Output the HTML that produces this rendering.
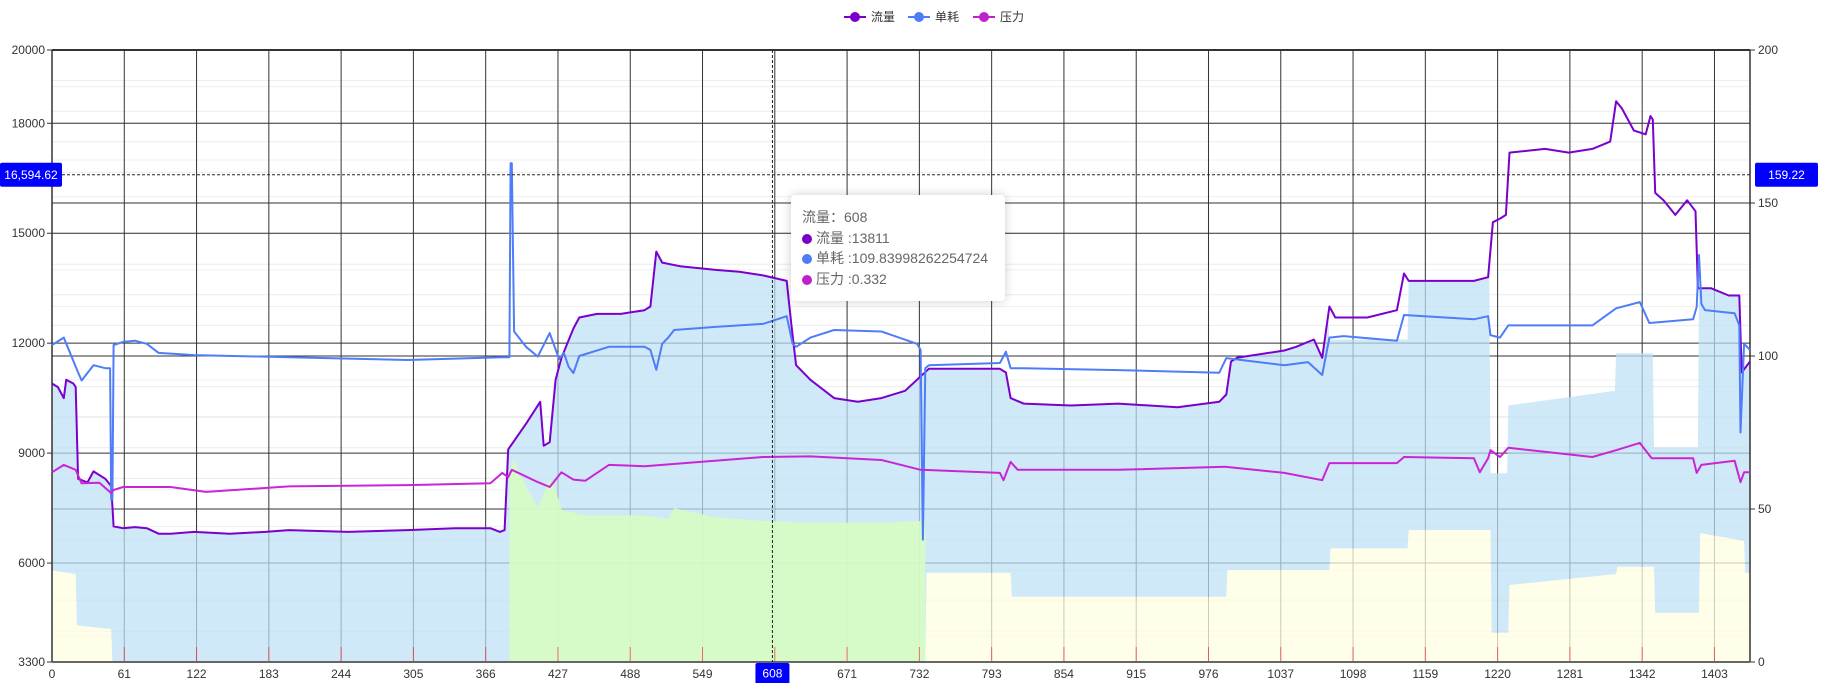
<!DOCTYPE html>
<html><head><meta charset="utf-8">
<style>
html,body{margin:0;padding:0;background:#fff;}
body{width:1823px;height:683px;overflow:hidden;position:relative;font-family:"Liberation Sans","Noto Sans CJK SC",sans-serif;}
svg text{font-family:"Liberation Sans","Noto Sans CJK SC",sans-serif;}
#tooltip{position:absolute;left:791px;top:195px;width:214px;height:106px;background:#fff;border-radius:4px;box-shadow:0 0 10px rgba(0,0,0,0.2);font-size:14px;color:#666;box-sizing:border-box;padding:12px 11px;line-height:20.5px;}
#tooltip .dot{display:inline-block;width:10px;height:10px;border-radius:5px;margin-right:4px;vertical-align:-1px;}
</style></head>
<body>
<svg id="chart" width="1823" height="683" style="position:absolute;left:0;top:0"></svg>
<div id="tooltip">
<div>流量：608</div>
<div><span class="dot" style="background:#7a00c8"></span>流量 :13811</div>
<div><span class="dot" style="background:#4f7cf8"></span>单耗 :109.83998262254724</div>
<div><span class="dot" style="background:#c020cc"></span>压力 :0.332</div>
</div>
<script>
const xTicks=[0,61,122,183,244,305,366,427,488,549,610,671,732,793,854,915,976,1037,1098,1159,1220,1281,1342,1403];
const xTickLabels=["0","61","122","183","244","305","366","427","488","549","608","671","732","793","854","915","976","1037","1098","1159","1220","1281","1342","1403"];
const leftTicks=[3300,6000,9000,12000,15000,18000,20000];
const rightTicks=[0,50,100,150,200];
const flowIdx=[0,5,10,12,18,20,22,30,35,45,50,52,60,70,80,90,100,120,150,180,200,250,300,340,370,378,382,385,400,412,415,420,425,430,440,445,460,480,500,505,510,515,530,560,580,600,620,624,628,640,660,680,700,720,740,800,805,809,820,860,900,950,985,991,995,1000,1040,1050,1065,1072,1078,1083,1110,1135,1141,1145,1200,1212,1216,1222,1227,1230,1260,1280,1300,1315,1320,1325,1335,1345,1349,1351,1353,1360,1370,1380,1387,1389,1400,1415,1424,1426,1433];
const flowVal=[10900,10800,10500,11000,10900,10800,8300,8200,8500,8300,8100,7000,6950,6980,6950,6800,6800,6850,6800,6850,6900,6850,6900,6950,6950,6850,6900,9100,9800,10400,9200,9300,11000,11600,12400,12700,12800,12800,12900,13000,14500,14200,14100,14000,13950,13850,13700,12500,11400,11000,10500,10400,10500,10700,11300,11300,11200,10500,10350,10300,10350,10250,10400,10600,11500,11600,11800,11900,12100,11600,13000,12700,12700,12900,13900,13700,13700,13800,15300,15400,15500,17200,17300,17200,17300,17500,18600,18400,17800,17700,18200,18100,16100,15900,15500,15900,15600,13500,13500,13300,13300,11200,11500];
const consIdx=[0,10,20,25,35,45,49,50,51,52,60,70,80,90,120,200,300,380,386,387,388,390,400,410,420,428,432,436,440,445,470,500,505,510,515,520,525,560,600,620,625,628,640,660,700,730,733,735,737,740,800,805,809,820,900,985,991,1040,1060,1072,1078,1090,1135,1141,1200,1212,1214,1222,1229,1300,1320,1340,1348,1385,1388,1390,1392,1395,1420,1424,1425,1428,1433];
const consVal=[103.6,106,96.5,92,97,96,96,53,53,103.6,104.6,105,104,101,100.3,99.6,98.7,99.6,99.6,163,163,108,103,99.8,107.5,99,101,96.5,94.4,100,103,103,102,95.5,104,106,108.5,109.5,110.5,113,104,103,106,108.5,108,104,102,40,96,97,97.7,101.4,96,96,95.4,94.5,99.3,97,98,93.8,106,106.5,105,113.4,112,113,106.8,106,110,110,115.6,117.6,110.8,112,116,133,117,115,114,110,75,104,102];
const presIdx=[0,10,20,25,40,50,52,60,100,130,200,300,370,380,385,388,410,420,430,440,450,470,500,600,640,700,733,800,803,809,815,900,990,1040,1072,1078,1135,1141,1200,1205,1212,1214,1222,1229,1300,1320,1340,1350,1385,1388,1392,1420,1425,1428,1433];
const presVal=[0.31,0.322,0.314,0.292,0.293,0.276,0.281,0.286,0.286,0.278,0.287,0.289,0.292,0.309,0.302,0.314,0.294,0.286,0.31,0.298,0.296,0.322,0.32,0.335,0.336,0.33,0.314,0.309,0.297,0.327,0.314,0.314,0.319,0.309,0.297,0.325,0.325,0.335,0.333,0.31,0.333,0.346,0.335,0.35,0.335,0.346,0.358,0.333,0.333,0.309,0.322,0.329,0.294,0.31,0.31];
const lowIdx=[0,20,21,50,51,737,738,809,810,991,992,1078,1079,1144,1145,1214,1215,1229,1230,1320,1321,1352,1353,1390,1391,1428,1429,1433];
const lowVal=[5800,5700,4300,4200,3300,3300,5730,5730,5080,5080,5810,5810,6400,6400,6900,6900,4100,4100,5400,5700,5900,5900,4640,4640,6820,6600,5730,5730];
const capIdx=[0,1077,1078,1144,1145,1213,1214,1228,1229,1319,1320,1351,1352,1389,1390,1433];
const capVal=[99999,99999,12100,12100,99999,99999,8450,8450,10300,10700,11730,11730,9160,9160,99999,99999];
const greenIdx=[386,390,400,410,420,425,430,450,500,520,525,560,600,640,700,737];
const greenVal=[8500,8800,8100,7500,8300,8000,7450,7300,7300,7200,7500,7250,7150,7100,7100,7150];

const L=52,R=1750,T=50,B=662,XMAX=1433;
const X=i=>L+i*(R-L)/XMAX;
const YL=v=>B-(v-3300)*(B-T)/(20000-3300);
const YR=v=>B-v*(B-T)/200;
const YP=v=>B-v*(B-T)/1;
const NS='http://www.w3.org/2000/svg';
const svg=document.getElementById('chart');
function mk(tag,attrs,parent){const e=document.createElementNS(NS,tag);for(const k in attrs)e.setAttribute(k,attrs[k]);(parent||svg).appendChild(e);return e;}
function interp(idx,val,i){if(i<=idx[0])return val[0];for(let k=1;k<idx.length;k++){if(i<=idx[k]){const t=(i-idx[k-1])/(idx[k]-idx[k-1]||1);return val[k-1]+t*(val[k]-val[k-1]);}}return val[val.length-1];}

// minor light gridlines
for(let v=10;v<200;v+=10){const l=mk('line',{x1:L,x2:R,y1:YR(v),y2:YR(v),stroke:'#ececec','stroke-width':1});

}
for(let v=4000;v<20000;v+=1000){const l=mk('line',{x1:L,x2:R,y1:YL(v),y2:YL(v),stroke:'#efefef','stroke-width':1});

}
// major grid
xTicks.forEach(t=>{const l=mk('line',{x1:X(t),x2:X(t),y1:T,y2:B,stroke:'#333','stroke-width':1});

});
leftTicks.slice(1,-1).forEach(v=>{const l=mk('line',{x1:L,x2:R,y1:YL(v),y2:YL(v),stroke:'#333','stroke-width':1});

});
rightTicks.slice(1,-1).forEach(v=>{const l=mk('line',{x1:L,x2:R,y1:YR(v),y2:YR(v),stroke:'#333','stroke-width':1});

});

// areas
let upper=[],lower=[],ptsY='',ptsB='';
for(let i=0;i<=XMAX;i++){upper.push(Math.min(interp(flowIdx,flowVal,i),interp(capIdx,capVal,i)));lower.push(interp(lowIdx,lowVal,i));}
let yel='M'+X(0)+','+B;for(let i=0;i<=XMAX;i++)yel+=' L'+X(i).toFixed(1)+','+YL(lower[i]).toFixed(1);yel+=' L'+X(XMAX)+','+B+' Z';
const ya=mk('path',{d:yel,fill:'rgba(255,253,225,0.75)'});


let band='M'+X(0)+','+YL(upper[0]);for(let i=1;i<=XMAX;i++)band+=' L'+X(i).toFixed(1)+','+YL(upper[i]).toFixed(1);
for(let i=XMAX;i>=0;i--)band+=' L'+X(i).toFixed(1)+','+YL(lower[i]).toFixed(1);band+=' Z';
const ba=mk('path',{d:band,fill:'rgba(190,225,245,0.72)'});


let g='M'+X(greenIdx[0])+','+B;greenIdx.forEach((k,j)=>g+=' L'+X(k).toFixed(1)+','+YL(greenVal[j]).toFixed(1));g+=' L'+X(greenIdx[greenIdx.length-1])+','+B+' Z';
const ga=mk('path',{d:g,fill:'rgba(215,252,195,0.9)'});


// red ticks
xTicks.forEach(t=>{const l=mk('line',{x1:X(t),x2:X(t),y1:B-15,y2:B,stroke:'rgba(255,0,0,0.55)','stroke-width':1});

});

// axes
const topLine=mk('line',{x1:L,x2:R,y1:T,y2:T,stroke:'#333','stroke-width':2});


const la=mk('line',{x1:L,x2:L,y1:T,y2:B,stroke:'#333','stroke-width':1.5});


const ra=mk('line',{x1:R,x2:R,y1:T,y2:B,stroke:'#333','stroke-width':1.5});


const xa=mk('line',{x1:L,x2:R,y1:B,y2:B,stroke:'#666','stroke-width':2});


leftTicks.forEach(v=>{const y=YL(v);mk('line',{x1:L-5,x2:L,y1:y,y2:y,stroke:'#333'});
const t=mk('text',{x:L-7,y:y+4,'text-anchor':'end','font-size':12,fill:'#333'});t.textContent=v;

});
rightTicks.forEach(v=>{const y=YR(v);mk('line',{x1:R,x2:R+5,y1:y,y2:y,stroke:'#333'});
const t=mk('text',{x:R+8,y:y+4,'font-size':12,fill:'#333'});t.textContent=v;

});
xTicks.forEach((v,j)=>{if(j===10)return;const t=mk('text',{x:X(v),y:B+16,'text-anchor':'middle','font-size':12,fill:'#333'});t.textContent=xTickLabels[j];

});

// lines
function line(idx,val,yf,color,name){let d='';idx.forEach((k,j)=>d+=(j?' L':'M')+X(k).toFixed(1)+','+yf(val[j]).toFixed(1));
const p=mk('path',{d:d,fill:'none',stroke:color,'stroke-width':2,'stroke-linejoin':'round'});

}
line(flowIdx,flowVal,YL,'#7a00cc','flow-line');
line(consIdx,consVal,YR,'#4f7cf8','consumption-line');
line(presIdx,presVal,YP,'#c925d6','pressure-line');

// crosshair
const cx=X(608),cy=YL(16594.62);
const vh=mk('line',{x1:cx,x2:cx,y1:T,y2:B,stroke:'#222','stroke-dasharray':'3,2'});


const hh=mk('line',{x1:L,x2:R,y1:cy,y2:cy,stroke:'#222','stroke-dasharray':'3,2'});


function box(x,y,w,h,txt,name){const r=mk('rect',{x:x,y:y,width:w,height:h,rx:2,fill:'#0000ff'});


const t=mk('text',{x:x+w/2,y:y+h/2+4,'text-anchor':'middle','font-size':12,fill:'#fff'});t.textContent=txt;}
box(0,cy-12,62,24,'16,594.62','crosshair-left-label');
box(1755,cy-12,63,24,'159.22','crosshair-right-label');
box(cx-17,B+1,34,21,'608','crosshair-x-label');

// legend
const leg=[['流量','#7a00c8',855],['单耗','#4f7cf8',919],['压力','#c020cc',984]];
leg.forEach(([n,c,x])=>{const gg=mk('g',{});


mk('line',{x1:x-11,x2:x+11,y1:17,y2:17,stroke:c,'stroke-width':2},gg);
mk('circle',{cx:x,cy:17,r:5,fill:c},gg);
const t=mk('text',{x:x+16,y:21,'font-size':12,fill:'#333'},gg);t.textContent=n;});
</script>
</body></html>
